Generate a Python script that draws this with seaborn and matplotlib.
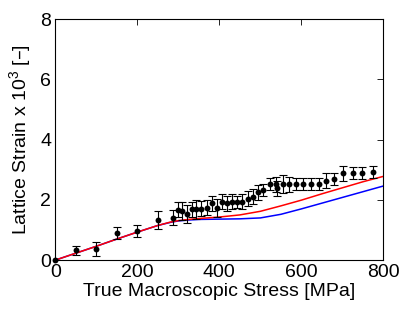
import matplotlib
matplotlib.use("Agg")
import matplotlib.pyplot as plt
import seaborn as sns
import pandas as pd

# Model curves (stress in MPa, lattice strain x 1e3)
stress_model = [0, 50, 100, 150, 200, 250, 280, 300, 325, 350, 400, 450, 500,
                550, 600, 650, 700, 750, 800]
strain_red = [0, 0.23, 0.46, 0.70, 0.93, 1.15, 1.26, 1.31, 1.35, 1.38, 1.43,
              1.50, 1.62, 1.80, 1.99, 2.20, 2.40, 2.60, 2.78]
strain_blue = [0, 0.23, 0.46, 0.70, 0.93, 1.15, 1.25, 1.30, 1.33, 1.35, 1.36,
               1.37, 1.40, 1.52, 1.70, 1.89, 2.08, 2.27, 2.46]

# Measured points
stress_exp = [0, 50, 100, 150, 200, 250, 286, 298, 308, 321, 333, 344, 356, 369,
              382, 394, 406, 418, 431, 443, 455, 469, 481, 494, 507, 524, 537,
              541, 555, 570, 587, 605, 623, 642, 660, 680, 701, 725, 749, 775]
strain_exp = [0.0, 0.33, 0.37, 0.91, 0.98, 1.32, 1.40, 1.67, 1.63, 1.52, 1.69,
              1.68, 1.70, 1.74, 1.89, 1.74, 1.94, 1.88, 1.93, 1.93, 1.93, 2.03,
              2.10, 2.25, 2.33, 2.53, 2.52, 2.38, 2.52, 2.52, 2.52, 2.52, 2.52,
              2.52, 2.63, 2.69, 2.88, 2.88, 2.90, 2.91]
err_exp = [0.0, 0.15, 0.24, 0.2, 0.2, 0.3, 0.25, 0.25, 0.3, 0.3, 0.25, 0.3,
           0.25, 0.25, 0.25, 0.3, 0.25, 0.25, 0.25, 0.2, 0.25, 0.25, 0.25, 0.25,
           0.2, 0.2, 0.25, 0.25, 0.3, 0.25, 0.2, 0.2, 0.2, 0.2, 0.25, 0.2, 0.25,
           0.2, 0.2, 0.2]

x_ticks = [0, 200, 400, 600, 800]
y_ticks = [0, 2, 4, 6, 8]

sns.set_theme(style="white")
plt.rcParams["font.family"] = ["Liberation Sans", "DejaVu Sans"]
plt.rcParams["mathtext.default"] = "regular"
plt.rcParams["text.color"] = "black"
plt.rcParams["axes.labelcolor"] = "black"

fig = plt.figure(figsize=(4.07, 3.13), dpi=100)
ax = fig.add_axes([0.136, 0.169, 0.806, 0.770])

df_model = pd.DataFrame({"stress": stress_model, "red": strain_red, "blue": strain_blue})
sns.lineplot(data=df_model, x="stress", y="blue", color="#0000ff", lw=1.1, ax=ax)
sns.lineplot(data=df_model, x="stress", y="red", color="#ff0000", lw=1.1, ax=ax)

ax.errorbar(stress_exp, strain_exp, yerr=err_exp, fmt="none", ecolor="black",
            elinewidth=0.8, capsize=3, capthick=0.8, zorder=3)
df_exp = pd.DataFrame({"stress": stress_exp, "strain": strain_exp})
sns.scatterplot(data=df_exp, x="stress", y="strain", color="black", s=18,
                edgecolor="black", linewidth=0, ax=ax, zorder=4, clip_on=False)

ax.set_xlim(0, 800)
ax.set_ylim(0, 8)
ax.set_xticks(x_ticks)
ax.set_yticks(y_ticks)
ax.tick_params(direction="in", length=4, width=0.6, top=True, right=True,
               labelsize=14, colors="black", pad=3)
for s in ax.spines.values():
    s.set_visible(True)
    s.set_color("black")
    s.set_linewidth(0.8)
ax.set_xlabel("True Macroscopic Stress [MPa]", fontsize=14, labelpad=1, color="black")
ax.set_ylabel("Lattice Strain x 10$^{3}$ [–]", fontsize=14, labelpad=5, color="black")

fig.savefig("out.png", dpi=100)
